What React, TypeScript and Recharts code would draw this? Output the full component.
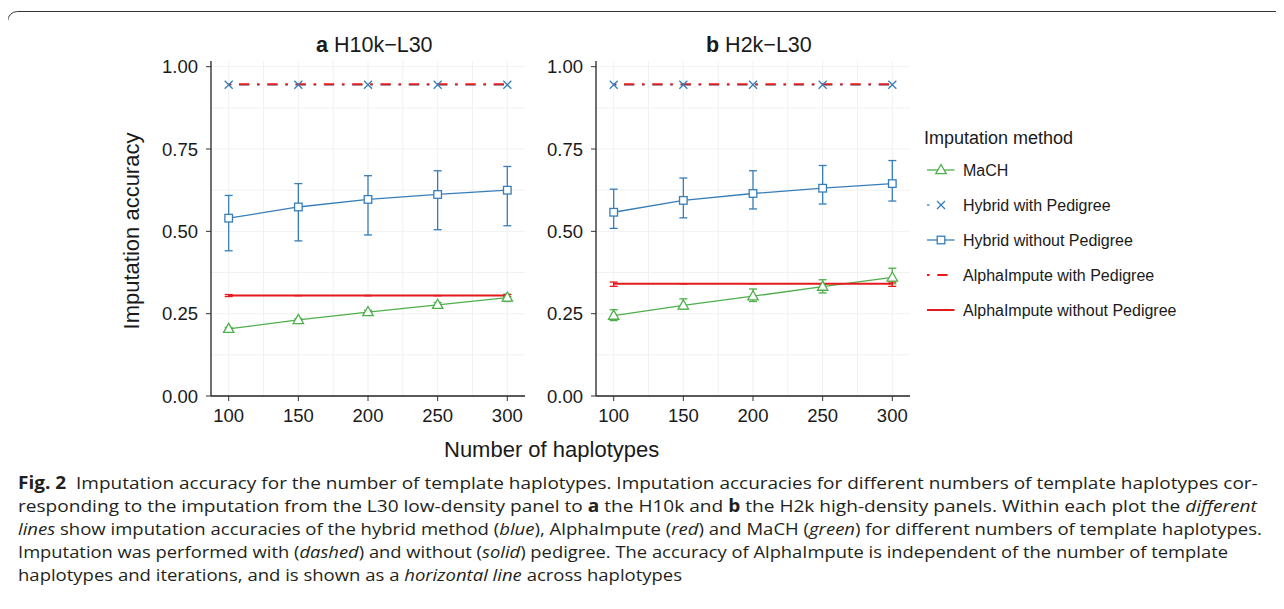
import { useLayoutEffect, useRef, useState } from 'react';
import { CartesianGrid, ErrorBar, Line, LineChart, XAxis, YAxis } from 'recharts';

const GREEN = '#4daf4a';
const BLUE = '#377eb8';
const RED = '#e41a1c';
const INK = '#1a1a1a';
const FONT = "'Liberation Sans', Arial, sans-serif";
const CAP_FONT = "'Open Sans', 'Noto Sans', sans-serif";
const DOTDASH = '2.6 7.7 10.3 7.7';

const haplotypes = [100, 150, 200, 250, 300];
const xTicks = [100, 150, 200, 250, 300];
const xGrid = [100, 125, 150, 175, 200, 225, 250, 275, 300];
const yTicks = [0, 0.25, 0.5, 0.75, 1];
const yGrid = [0.125, 0.25, 0.375, 0.5, 0.625, 0.75, 0.875, 1];

// a: H10k-L30
const machA = [0.204, 0.231, 0.255, 0.277, 0.299];
const machALow = [0.2, 0.227, 0.25, 0.268, 0.287];
const machAHigh = [0.208, 0.235, 0.26, 0.284, 0.309];
const hybridPedA = [0.945, 0.945, 0.945, 0.945, 0.945];
const hybridA = [0.54, 0.574, 0.597, 0.612, 0.625];
const hybridALow = [0.441, 0.471, 0.489, 0.505, 0.517];
const hybridAHigh = [0.609, 0.645, 0.669, 0.684, 0.697];
const alphaPedA = [0.947, 0.947, 0.947, 0.947, 0.947];
const alphaA = [0.305, 0.305, 0.305, 0.305, 0.305];
const alphaALow = [0.302, 0.305, 0.305, 0.305, 0.302];
const alphaAHigh = [0.308, 0.305, 0.305, 0.305, 0.308];

// b: H2k-L30
const machB = [0.244, 0.275, 0.303, 0.332, 0.36];
const machBLow = [0.229, 0.264, 0.287, 0.313, 0.341];
const machBHigh = [0.262, 0.295, 0.325, 0.353, 0.388];
const hybridPedB = [0.945, 0.945, 0.945, 0.945, 0.945];
const hybridB = [0.558, 0.594, 0.615, 0.631, 0.645];
const hybridBLow = [0.509, 0.541, 0.568, 0.583, 0.592];
const hybridBHigh = [0.628, 0.662, 0.684, 0.7, 0.715];
const alphaPedB = [0.947, 0.947, 0.947, 0.947, 0.947];
const alphaB = [0.341, 0.341, 0.341, 0.341, 0.341];
const alphaBLow = [0.333, 0.341, 0.341, 0.341, 0.333];
const alphaBHigh = [0.346, 0.341, 0.341, 0.341, 0.346];

const legendItems = [
  'MaCH',
  'Hybrid with Pedigree',
  'Hybrid without Pedigree',
  'AlphaImpute with Pedigree',
  'AlphaImpute without Pedigree',
];

const err = (v: number[], lo: number[], hi: number[], i: number) => [
  +(v[i] - lo[i]).toFixed(3),
  +(hi[i] - v[i]).toFixed(3),
];

function buildRows(
  mach: number[], machLo: number[], machHi: number[],
  hybPed: number[], hyb: number[], hybLo: number[], hybHi: number[],
  alphaPed: number[], alpha: number[], alphaLo: number[], alphaHi: number[],
) {
  return haplotypes.map((x, i) => ({
    x,
    mach: mach[i],
    machErr: err(mach, machLo, machHi, i),
    hybPed: hybPed[i],
    hyb: hyb[i],
    hybErr: err(hyb, hybLo, hybHi, i),
    alphaPed: alphaPed[i],
    alpha: alpha[i],
    alphaErr: err(alpha, alphaLo, alphaHi, i),
  }));
}

const rowsA = buildRows(machA, machALow, machAHigh, hybridPedA, hybridA, hybridALow, hybridAHigh, alphaPedA, alphaA, alphaALow, alphaAHigh);
const rowsB = buildRows(machB, machBLow, machBHigh, hybridPedB, hybridB, hybridBLow, hybridBHigh, alphaPedB, alphaB, alphaBLow, alphaBHigh);

const triangle = (cx: number, cy: number, key?: any) => (
  <polygon key={key} points={`${cx},${cy - 5.5} ${cx - 5.2},${cy + 3.6} ${cx + 5.2},${cy + 3.6}`} fill="#fff" stroke={GREEN} strokeWidth={1.3} />
);
const square = (cx: number, cy: number, key?: any) => (
  <rect key={key} x={cx - 3.8} y={cy - 3.8} width={7.6} height={7.6} fill="#fff" stroke={BLUE} strokeWidth={1.3} />
);
const cross = (cx: number, cy: number, key?: any) => (
  <path key={key} d={`M${cx - 4},${cy - 4}L${cx + 4},${cy + 4}M${cx - 4},${cy + 4}L${cx + 4},${cy - 4}`} stroke={BLUE} strokeWidth={1.3} />
);

const dotOf = (fn: typeof triangle) => (p: any) =>
  p.cx == null || p.cy == null ? <g key={p.index} /> : fn(p.cx, p.cy, p.index);

const tickStyle = { fontSize: 18.5, fill: INK, fontFamily: FONT };

function Panel({ rows, left, width, marginLeft, marginRight }: any) {
  return (
    <div style={{ position: 'absolute', left, top: 0 }}>
      <LineChart width={width} height={470} data={rows} margin={{ top: 61, right: marginRight, bottom: 44, left: marginLeft }}>
        <CartesianGrid horizontalValues={yGrid} verticalValues={xGrid} stroke="#f1f1f1" strokeWidth={1} />
        <XAxis dataKey="x" type="number" domain={[87.3, 312.7]} ticks={xTicks} height={30} tickSize={5} tickMargin={8}
          tick={tickStyle} axisLine={{ stroke: '#222', strokeWidth: 1.3 }} tickLine={{ stroke: '#333' }} />
        <XAxis xAxisId="top" orientation="top" dataKey="x" type="number" domain={[87.3, 312.7]} height={0}
          tick={false} tickLine={false} axisLine={{ stroke: '#a8a8a8', strokeWidth: 1.3 }} />
        <YAxis type="number" domain={[0, 1.0173]} ticks={yTicks} width={60} tickSize={5} tickMargin={8}
          tickFormatter={(v: number) => v.toFixed(2)} tick={tickStyle} axisLine={{ stroke: '#222', strokeWidth: 1.3 }}
          tickLine={{ stroke: '#333' }} />
        <YAxis yAxisId="right" orientation="right" domain={[0, 1.0173]} width={0} tick={false} tickLine={false}
          axisLine={{ stroke: '#a8a8a8', strokeWidth: 1.3 }} />
        <Line dataKey="mach" stroke={GREEN} strokeWidth={1.3} dot={dotOf(triangle)} activeDot={false} isAnimationActive={false}>
          <ErrorBar dataKey="machErr" width={4} stroke={GREEN} strokeWidth={1.3} direction="y" />
        </Line>
        <Line dataKey="hybPed" stroke={BLUE} strokeWidth={1.3} strokeDasharray={DOTDASH} dot={dotOf(cross)} activeDot={false} isAnimationActive={false} />
        <Line dataKey="hyb" stroke={BLUE} strokeWidth={1.3} dot={dotOf(square)} activeDot={false} isAnimationActive={false}>
          <ErrorBar dataKey="hybErr" width={4} stroke={BLUE} strokeWidth={1.3} direction="y" />
        </Line>
        <Line dataKey="alphaPed" stroke={RED} strokeWidth={2} strokeDasharray={DOTDASH} dot={false} activeDot={false} isAnimationActive={false} />
        <Line dataKey="alpha" stroke={RED} strokeWidth={2} dot={false} activeDot={false} isAnimationActive={false}>
          <ErrorBar dataKey="alphaErr" width={4} stroke={RED} strokeWidth={1.3} direction="y" />
        </Line>
      </LineChart>
    </div>
  );
}

const legendY = [170, 205, 240, 275, 310];

function LegendIcon({ i, y }: { i: number; y: number }) {
  const x0 = 927;
  const x1 = 954.5;
  const mid = 941;
  if (i === 0)
    return (<g><line x1={x0} x2={x1} y1={y} y2={y} stroke={GREEN} strokeWidth={1.3} />{triangle(mid, y)}</g>);
  if (i === 1)
    return (<g><line x1={x0} x2={x0 + 2.4} y1={y} y2={y} stroke={BLUE} strokeWidth={1.3} />{cross(mid, y)}</g>);
  if (i === 2)
    return (<g><line x1={x0} x2={x1} y1={y} y2={y} stroke={BLUE} strokeWidth={1.3} />{square(mid, y)}</g>);
  if (i === 3)
    return (<line x1={x0} x2={x1} y1={y} y2={y} stroke={RED} strokeWidth={2} strokeDasharray={DOTDASH} />);
  return <line x1={x0} x2={x1} y1={y} y2={y} stroke={RED} strokeWidth={2} />;
}

const it = { fontStyle: 'italic' as const };
const bd = { fontWeight: 700 };
const captionLines = [
  { y: 489, len: 1240, body: (<><tspan style={bd}>Fig. 2</tspan>{'  Imputation accuracy for the number of template haplotypes. Imputation accuracies for different numbers of template haplotypes cor-'}</>) },
  { y: 512, len: 1240, body: (<>{'responding to the imputation from the L30 low-density panel to '}<tspan style={bd}>a</tspan>{' the H10k and '}<tspan style={bd}>b</tspan>{' the H2k high-density panels. Within each plot the '}<tspan style={it}>different</tspan></>) },
  { y: 535, len: 1244, body: (<><tspan style={it}>lines</tspan>{' show imputation accuracies of the hybrid method ('}<tspan style={it}>blue</tspan>{'), AlphaImpute ('}<tspan style={it}>red</tspan>{') and MaCH ('}<tspan style={it}>green</tspan>{') for different numbers of template haplotypes.'}</>) },
  { y: 558, len: 1210, body: (<>{'Imputation was performed with ('}<tspan style={it}>dashed</tspan>{') and without ('}<tspan style={it}>solid</tspan>{') pedigree. The accuracy of AlphaImpute is independent of the number of template'}</>) },
  { y: 581, len: 664, body: (<>{'haplotypes and iterations, and is shown as a '}<tspan style={it}>horizontal line</tspan>{' across haplotypes'}</>) },
];

function Caption() {
  const refs = useRef<(SVGTextElement | null)[]>([]);
  const [scales, setScales] = useState<number[]>(captionLines.map(() => 0.78));
  useLayoutEffect(() => {
    const measure = () =>
      setScales(captionLines.map((l, i) => {
        const el = refs.current[i];
        const w = el ? el.getBBox().width : 0;
        return w > 0 ? l.len / w : 0.78;
      }));
    measure();
    if ((document as any).fonts?.ready) (document as any).fonts.ready.then(measure);
  }, []);
  return (
    <g fontFamily={CAP_FONT} fontSize={17} fill="#231f20">
      {captionLines.map((l, i) => (
        <text key={i} ref={(el) => { refs.current[i] = el; }} x={0} y={0}
          transform={`translate(18,${l.y}) scale(${scales[i]},1)`} xmlSpace="preserve">{l.body}</text>
      ))}
    </g>
  );
}

export default function App() {
  return (
    <div style={{ position: 'relative', width: 1284, height: 609, margin: -8, background: '#fff', overflow: 'hidden', fontFamily: FONT }}>
      <svg width={1284} height={609} style={{ position: 'absolute', left: 0, top: 0 }}>
        <rect x={7.5} y={11.5} width={1400} height={700} rx={10} fill="none" stroke="#333" strokeWidth={1} />
      </svg>
      <Panel rows={rowsA} left={0} width={540} marginLeft={151} marginRight={15} />
      <Panel rows={rowsB} left={530} width={400} marginLeft={6} marginRight={20} />
      <svg width={1284} height={609} style={{ position: 'absolute', left: 0, top: 0, pointerEvents: 'none' }}>
        <g fontFamily={FONT} fill={INK}>
          <text x={316} y={52} fontSize={21.5}><tspan fontWeight={700}>a</tspan> H10k−L30</text>
          <text x={706} y={52} fontSize={21.5}><tspan fontWeight={700}>b</tspan> H2k−L30</text>
          <text x={444} y={457} fontSize={22}>Number of haplotypes</text>
          <text transform="translate(139,231) rotate(-90)" textAnchor="middle" fontSize={22}>Imputation accuracy</text>
          <text x={924} y={143.5} fontSize={18}>Imputation method</text>
          {legendItems.map((name, i) => (
            <g key={name}>
              <LegendIcon i={i} y={legendY[i]} />
              <text x={963} y={legendY[i] + 5.7} fontSize={16}>{name}</text>
            </g>
          ))}
        </g>
        <Caption />
      </svg>
    </div>
  );
}
